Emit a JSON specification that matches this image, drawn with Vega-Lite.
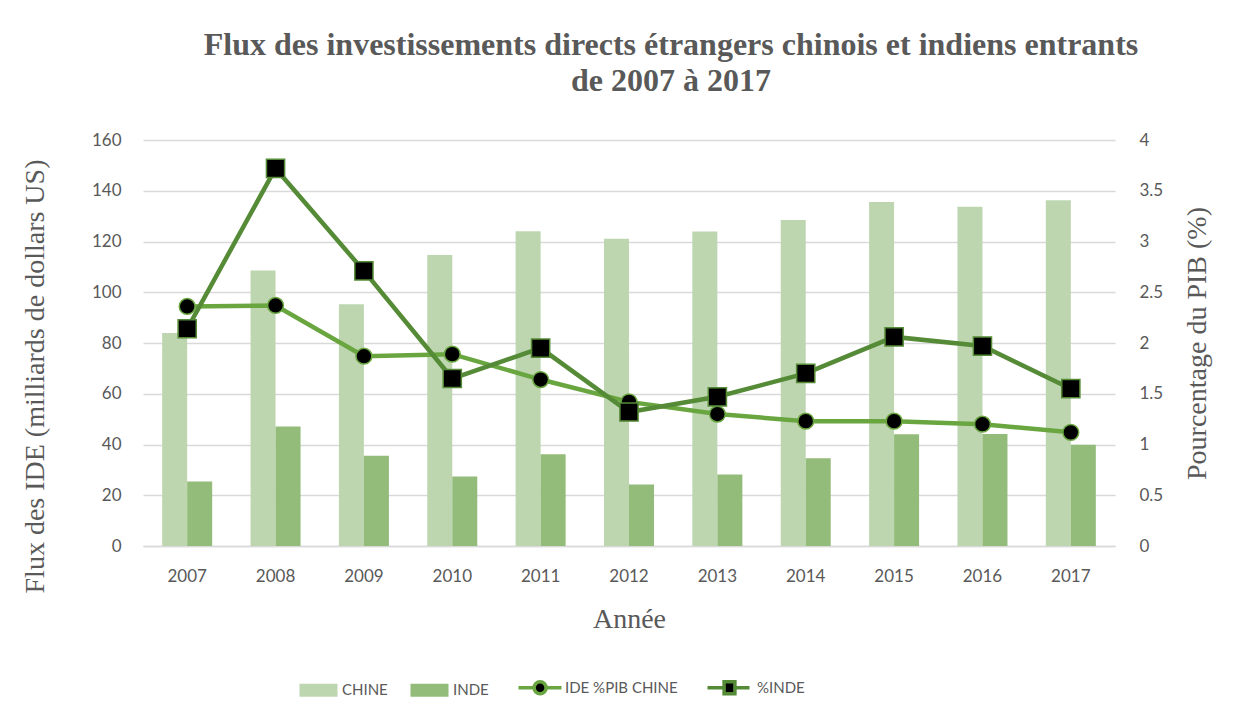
{
  "$schema": "https://vega.github.io/schema/vega-lite/v6.json",
  "width": 972,
  "height": 406,
  "autosize": {"type": "none"},
  "padding": {"left": 143, "top": 140, "right": 118, "bottom": 172},
  "background": "white",
  "title": {
    "text": ["Flux des investissements directs étrangers chinois et indiens entrants", "de 2007 à 2017"],
    "font": "Liberation Serif",
    "fontSize": 32,
    "fontWeight": "bold",
    "color": "#595959",
    "anchor": "middle",
    "dx": 42,
    "offset": 33,
    "lineHeight": 36
  },
  "datasets": {
    "bars": [
      {"annee": "2007", "serie": "CHINE", "valeur": 83.9},
      {"annee": "2008", "serie": "CHINE", "valeur": 108.6},
      {"annee": "2009", "serie": "CHINE", "valeur": 95.3},
      {"annee": "2010", "serie": "CHINE", "valeur": 114.7},
      {"annee": "2011", "serie": "CHINE", "valeur": 124.0},
      {"annee": "2012", "serie": "CHINE", "valeur": 121.1},
      {"annee": "2013", "serie": "CHINE", "valeur": 123.9},
      {"annee": "2014", "serie": "CHINE", "valeur": 128.5},
      {"annee": "2015", "serie": "CHINE", "valeur": 135.6},
      {"annee": "2016", "serie": "CHINE", "valeur": 133.7},
      {"annee": "2017", "serie": "CHINE", "valeur": 136.3},
      {"annee": "2007", "serie": "INDE", "valeur": 25.4},
      {"annee": "2008", "serie": "INDE", "valeur": 47.1},
      {"annee": "2009", "serie": "INDE", "valeur": 35.6},
      {"annee": "2010", "serie": "INDE", "valeur": 27.4},
      {"annee": "2011", "serie": "INDE", "valeur": 36.2},
      {"annee": "2012", "serie": "INDE", "valeur": 24.2},
      {"annee": "2013", "serie": "INDE", "valeur": 28.2},
      {"annee": "2014", "serie": "INDE", "valeur": 34.6},
      {"annee": "2015", "serie": "INDE", "valeur": 44.0},
      {"annee": "2016", "serie": "INDE", "valeur": 44.1},
      {"annee": "2017", "serie": "INDE", "valeur": 39.9}
    ],
    "lines": [
      {"annee": "2007", "serie": "IDE %PIB CHINE", "pct": 2.36},
      {"annee": "2008", "serie": "IDE %PIB CHINE", "pct": 2.37},
      {"annee": "2009", "serie": "IDE %PIB CHINE", "pct": 1.87},
      {"annee": "2010", "serie": "IDE %PIB CHINE", "pct": 1.89},
      {"annee": "2011", "serie": "IDE %PIB CHINE", "pct": 1.64},
      {"annee": "2012", "serie": "IDE %PIB CHINE", "pct": 1.42},
      {"annee": "2013", "serie": "IDE %PIB CHINE", "pct": 1.30},
      {"annee": "2014", "serie": "IDE %PIB CHINE", "pct": 1.23},
      {"annee": "2015", "serie": "IDE %PIB CHINE", "pct": 1.23},
      {"annee": "2016", "serie": "IDE %PIB CHINE", "pct": 1.20},
      {"annee": "2017", "serie": "IDE %PIB CHINE", "pct": 1.12},
      {"annee": "2007", "serie": "%INDE", "pct": 2.14},
      {"annee": "2008", "serie": "%INDE", "pct": 3.72},
      {"annee": "2009", "serie": "%INDE", "pct": 2.71},
      {"annee": "2010", "serie": "%INDE", "pct": 1.65},
      {"annee": "2011", "serie": "%INDE", "pct": 1.95},
      {"annee": "2012", "serie": "%INDE", "pct": 1.32},
      {"annee": "2013", "serie": "%INDE", "pct": 1.47},
      {"annee": "2014", "serie": "%INDE", "pct": 1.70},
      {"annee": "2015", "serie": "%INDE", "pct": 2.06},
      {"annee": "2016", "serie": "%INDE", "pct": 1.97},
      {"annee": "2017", "serie": "%INDE", "pct": 1.55}
    ]
  },
  "encoding": {
    "x": {
      "field": "annee",
      "type": "nominal",
      "scale": {"paddingInner": 0.434, "paddingOuter": 0.217},
      "axis": {
        "title": "Année",
        "titleFont": "Liberation Serif",
        "titleFontSize": 28,
        "titleFontWeight": "normal",
        "titleColor": "#595959",
        "titlePadding": 21,
        "labelAngle": 0,
        "labelFont": "Lato",
        "labelFontSize": 17,
        "labelColor": "#595959",
        "labelPadding": 22,
        "ticks": false,
        "domainColor": "#D9D9D9",
        "domainWidth": 1.5
      }
    }
  },
  "layer": [
    {
      "data": {"name": "bars"},
      "mark": {"type": "bar"},
      "encoding": {
        "xOffset": {"field": "serie", "type": "nominal", "sort": ["CHINE", "INDE"]},
        "y": {
          "field": "valeur",
          "type": "quantitative",
          "scale": {"domain": [0, 160]},
          "axis": {
            "title": "Flux des IDE (milliards de dollars US)",
            "titleFont": "Liberation Serif",
            "titleFontSize": 28,
            "titleFontWeight": "normal",
            "titleColor": "#595959",
            "titleAngle": 270,
            "titleBaseline": "middle",
            "titleAlign": "center",
            "titleX": -108,
            "titleY": 236,
            "values": [0, 20, 40, 60, 80, 100, 120, 140, 160],
            "labelOverlap": false,
            "labelFont": "Lato",
            "labelFontSize": 17,
            "labelColor": "#595959",
            "labelPadding": 22,
            "ticks": false,
            "domain": false,
            "grid": true,
            "gridColor": "#D9D9D9",
            "gridWidth": 1.5
          }
        },
        "fill": {
          "field": "serie",
          "type": "nominal",
          "scale": {
            "domain": ["CHINE", "INDE", "IDE %PIB CHINE", "%INDE"],
            "range": ["#BDD6B0", "#93BC7A", "#000000", "#000000"]
          },
          "legend": {
            "orient": "none",
            "legendX": 168,
            "legendY": 540,
            "direction": "horizontal",
            "title": null,
            "labelFont": "Lato",
            "labelFontSize": 15,
            "labelColor": "#595959",
            "labelOffset": 16,
            "columnPadding": 22,
            "symbolSize": 1600,
            "encode": {
              "labels": {
                "update": {
                  "dx": {"signal": "datum.value == 'IDE %PIB CHINE' ? -6 : datum.value == '%INDE' ? -10 : 0"}
                }
              },
              "symbols": {
                "update": {
                  "shape": {"signal": "datum.value == 'CHINE' || datum.value == 'INDE' ? 'M-0.95,-0.32H0.95V0.32H-0.95Z' : datum.value == 'IDE %PIB CHINE' ? 'M-1.45,0H-0.67M-0.07,0H0.7M-0.07,0A0.3,0.3,0,1,1,-0.67,0A0.3,0.3,0,1,1,-0.07,0Z' : 'M-1.8,0H-0.97M-0.43,0H0.3M-0.97,-0.3H-0.43V0.3H-0.97Z'"},
                  "stroke": {"signal": "datum.value == 'CHINE' ? '#BDD6B0' : datum.value == 'INDE' ? '#93BC7A' : datum.value == 'IDE %PIB CHINE' ? '#6AA640' : '#558B36'"},
                  "strokeWidth": {"signal": "datum.value == 'CHINE' || datum.value == 'INDE' ? 0 : 3.5"},
                  "opacity": {"value": 1},
                  "fillOpacity": {"value": 1}
                }
              }
            }
          }
        }
      }
    },
    {
      "data": {"name": "lines"},
      "layer": [
        {
          "mark": {"type": "line", "strokeWidth": 4.5},
          "encoding": {
            "y": {
              "field": "pct",
              "type": "quantitative",
              "scale": {"domain": [0, 4]},
              "axis": {
                "orient": "right",
                "title": "Pourcentage du PIB (%)",
                "titleFont": "Liberation Serif",
                "titleFontSize": 28,
                "titleFontWeight": "normal",
                "titleColor": "#595959",
                "titleAngle": 270,
                "titleBaseline": "middle",
                "titleAlign": "center",
                "titleX": 82,
                "titleY": 203,
                "values": [0, 0.5, 1, 1.5, 2, 2.5, 3, 3.5, 4],
                "format": "~g",
                "labelOverlap": false,
                "labelFont": "Lato",
                "labelFontSize": 17,
                "labelColor": "#595959",
                "labelPadding": 24,
                "ticks": false,
                "domain": false,
                "grid": false
              }
            },
            "stroke": {
              "field": "serie",
              "type": "nominal",
              "scale": {"domain": ["IDE %PIB CHINE", "%INDE"], "range": ["#6AA640", "#558B36"]},
              "legend": null
            }
          }
        },
        {
          "mark": {"type": "point", "filled": true, "fill": "black", "opacity": 1, "strokeWidth": 1.5},
          "encoding": {
            "y": {"field": "pct", "type": "quantitative"},
            "stroke": {"field": "serie", "type": "nominal", "legend": null},
            "shape": {"field": "serie", "type": "nominal", "scale": {"domain": ["IDE %PIB CHINE", "%INDE"], "range": ["circle", "square"]}, "legend": null},
            "size": {"field": "serie", "type": "nominal", "scale": {"domain": ["IDE %PIB CHINE", "%INDE"], "range": [250, 330]}, "legend": null}
          }
        }
      ]
    }
  ],
  "resolve": {"scale": {"y": "independent"}},
  "config": {
    "view": {"stroke": null},
    "font": "Lato"
  }
}
